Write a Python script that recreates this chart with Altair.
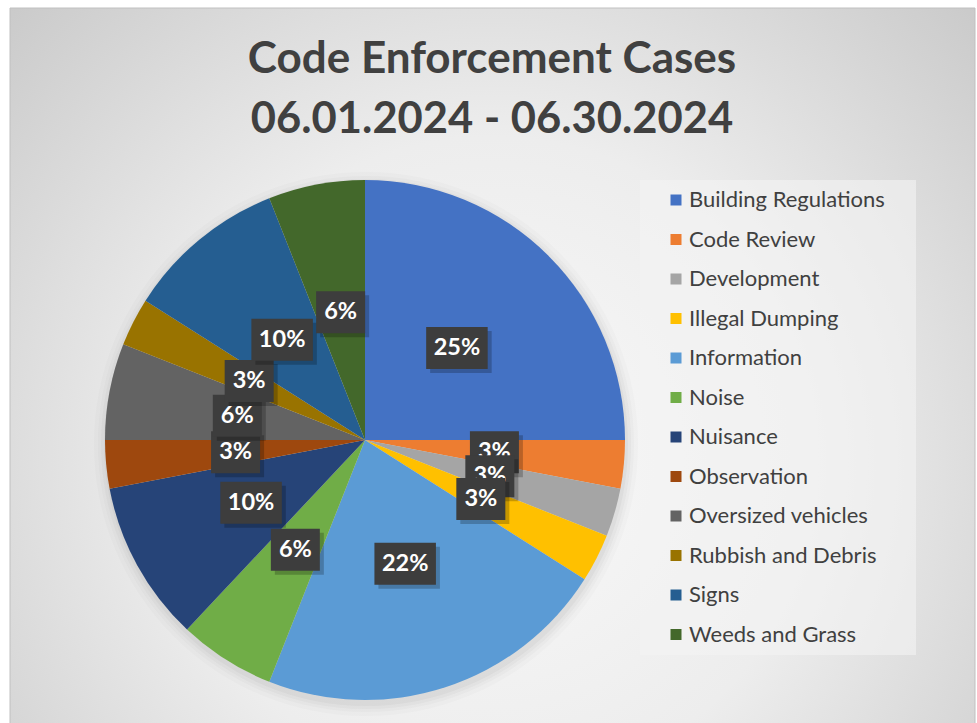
import altair as alt
import pandas as pd

categories = ["Building Regulations", "Code Review", "Development", "Illegal Dumping",
              "Information", "Noise", "Nuisance", "Observation", "Oversized vehicles",
              "Rubbish and Debris", "Signs", "Weeds and Grass"]
percents = [25, 3, 3, 3, 22, 6, 10, 3, 6, 3, 10, 6]
colors = ["#4472C4", "#ED7D31", "#A5A5A5", "#FFC000", "#5B9BD5", "#70AD47",
          "#264478", "#9E480E", "#636363", "#997300", "#255E91", "#43682B"]
title_lines = ["Code Enforcement Cases", "06.01.2024 - 06.30.2024"]

df = pd.DataFrame({"category": categories, "value": percents, "order": list(range(len(categories)))})

W, H = 977, 723
CX, CY, R = 365, 440, 260
FONT = "Lato"

px_x = alt.Scale(domain=[0, W], range=[0, W])
px_y = alt.Scale(domain=[0, H], range=[0, H])
color_scale = alt.Scale(domain=categories, range=colors)

base = alt.Chart(df)
one = alt.Chart(pd.DataFrame({"a": [0]}))

background = one.mark_rect(
    fill=alt.RadialGradient(
        gradient="radial", x1=0.5, y1=0.6, r1=0.0, x2=0.5, y2=0.6, r2=0.75,
        stops=[alt.GradientStop(offset=0, color="#f9f9f9"),
               alt.GradientStop(offset=0.45, color="#ededed"),
               alt.GradientStop(offset=1, color="#c4c4c4")]),
    stroke="#c0c0c0", strokeWidth=1
).encode(x=alt.value(10), x2=alt.value(975), y=alt.value(8), y2=alt.value(724))

shadows = []
for rr, op in [(272, 0.03), (268, 0.04), (265, 0.05), (262, 0.07)]:
    shadows.append(one.mark_arc(theta=0, theta2=6.2832, outerRadius=rr, color="#7f7f7f",
                                opacity=op).encode(x=alt.value(CX + 1), y=alt.value(CY + 4)))

pie = base.mark_arc(outerRadius=R).encode(
    theta=alt.Theta("value:Q", stack=True),
    color=alt.Color("category:N", scale=color_scale, legend=None),
    order=alt.Order("order:Q", sort="ascending"),
    x=alt.value(CX), y=alt.value(CY),
)

lab = base.transform_joinaggregate(total="sum(value)").transform_window(
    cum="sum(value)", sort=[alt.SortField("order")], frame=[None, 0]
).transform_calculate(
    mid="(datum.cum - datum.value/2) / datum.total * 2 * PI",
    label="format(datum.value, 'd') + '%'",
).transform_calculate(
    px=f"{CX} + 130 * sin(datum.mid)",
    py=f"{CY} - 130 * cos(datum.mid)",
    w="24 + 12.5 * length(datum.label)",
).transform_calculate(
    x1="datum.px - datum.w/2", x2="datum.px + datum.w/2",
    y1="datum.py - 21", y2="datum.py + 21",
    sx1="datum.px - datum.w/2 + 4", sx2="datum.px + datum.w/2 + 4",
    sy1="datum.py - 17", sy2="datum.py + 25",
)

label_layers = []
for cat in categories:
    f = lab.transform_filter(alt.datum.category == cat)
    shadow = f.mark_rect(color="#000000", opacity=0.22).encode(
        x=alt.X("sx1:Q", scale=px_x, axis=None), x2="sx2:Q",
        y=alt.Y("sy1:Q", scale=px_y, axis=None), y2="sy2:Q")
    box = f.mark_rect(color="#3d3d3d").encode(
        x=alt.X("x1:Q", scale=px_x, axis=None), x2="x2:Q",
        y=alt.Y("y1:Q", scale=px_y, axis=None), y2="y2:Q")
    txt = f.mark_text(font=FONT, fontWeight="bold", fontSize=23.5, color="white",
                      baseline="middle", align="center").encode(
        x=alt.X("px:Q", scale=px_x, axis=None),
        y=alt.Y("py:Q", scale=px_y, axis=None),
        text="label:N")
    label_layers += [shadow, box, txt]

legend_bg = one.mark_rect(fill="#f4f4f4", opacity=0.6).encode(
    x=alt.value(640), x2=alt.value(916), y=alt.value(180), y2=alt.value(655))

leg_y = alt.Y("order:Q", scale=alt.Scale(domain=[0, 11], range=[200, 634.5]), axis=None)
legend_sq = base.mark_square(size=121, opacity=1).encode(
    x=alt.value(676), y=leg_y,
    color=alt.Color("category:N", scale=color_scale, legend=None))
legend_txt = base.mark_text(font=FONT, fontSize=22, color="#404040", align="left",
                            baseline="middle").encode(
    x=alt.value(689), y=leg_y, text="category:N")

title1 = one.mark_text(text=title_lines[0], font=FONT, fontWeight="bold", fontSize=44,
                       color="#404040", align="center", baseline="middle").encode(
    x=alt.value(492), y=alt.value(60))
title2 = one.mark_text(text=title_lines[1], font=FONT, fontWeight="bold", fontSize=43.5,
                       color="#404040", align="center", baseline="middle").encode(
    x=alt.value(492), y=alt.value(120))

chart = alt.layer(
    background, *shadows, pie, *label_layers, legend_bg, legend_sq, legend_txt, title1, title2
).resolve_scale(x="independent", y="independent").properties(
    width=W, height=H, padding=0, autosize=alt.AutoSizeParams(type="none"),
    background="white"
).configure_view(stroke=None)

chart.save("out.html", embed_options={"renderer": "svg", "actions": False})
